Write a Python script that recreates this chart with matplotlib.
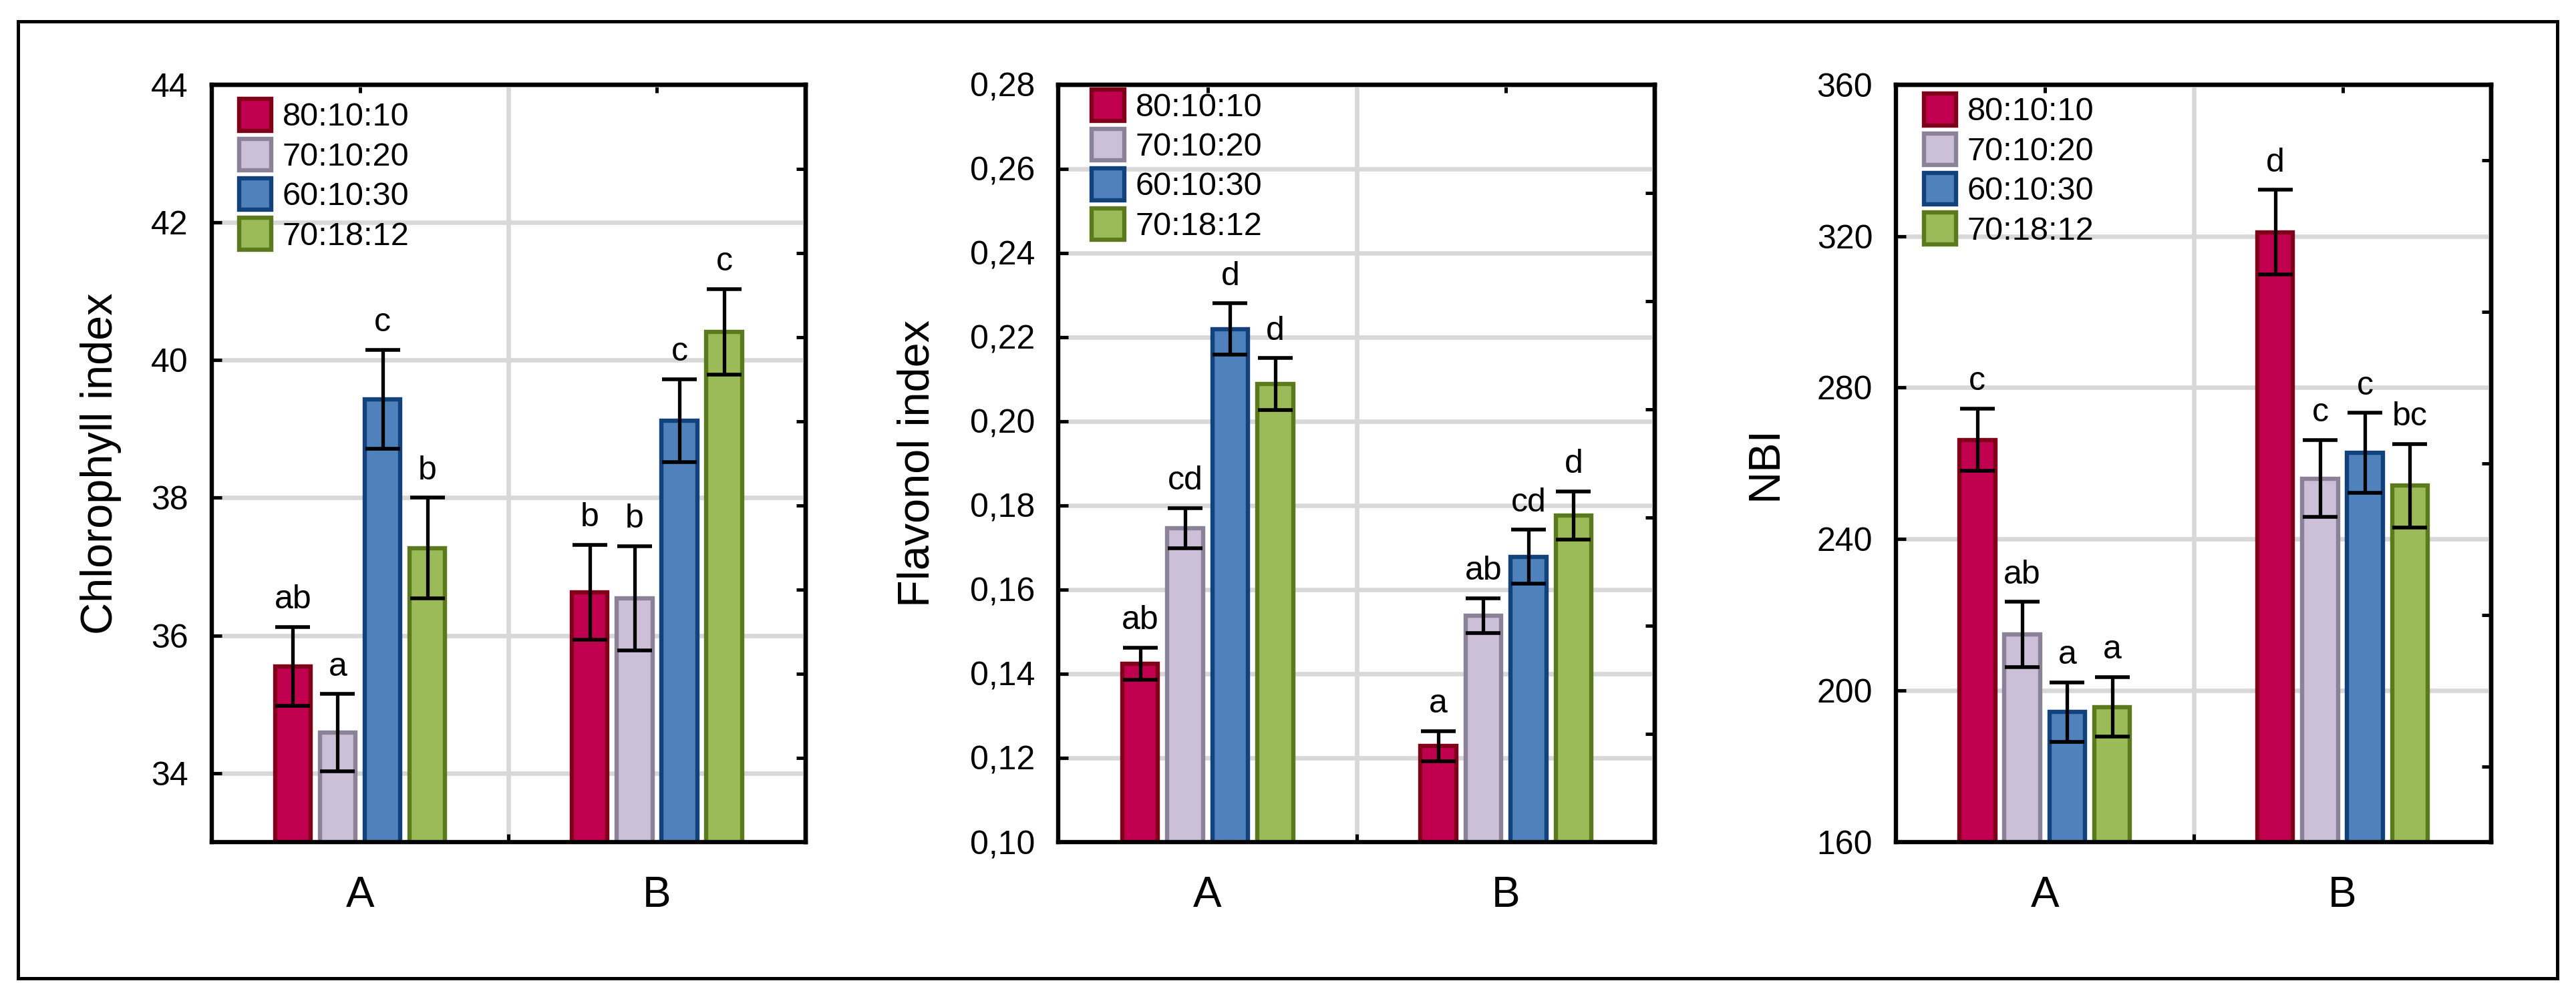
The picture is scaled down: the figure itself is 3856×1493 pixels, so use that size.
import numpy as np
import matplotlib
matplotlib.use('Agg')
import matplotlib.pyplot as plt
from matplotlib.patches import Rectangle
from matplotlib.ticker import FuncFormatter

plt.rcParams['font.family'] = ['Liberation Sans', 'DejaVu Sans']

groups = ['A', 'B']
series = ['80:10:10', '70:10:20', '60:10:30', '70:18:12']
fills = ['#C0004E', '#CBC0D8', '#4F81BD', '#9BBB59']
edges = ['#80001A', '#8C8298', '#12427C', '#5B7A1D']

# chlorophyll index, rows = series, cols = A, B
chl = np.array([[35.55, 36.63], [34.59, 36.54], [39.43, 39.12], [37.27, 40.41]])
chl_err = np.array([[0.57, 0.69], [0.56, 0.76], [0.72, 0.60], [0.73, 0.62]])
chl_let = [['ab', 'b'], ['a', 'b'], ['c', 'c'], ['b', 'c']]

flav = np.array([[0.1424, 0.1228], [0.1746, 0.1538], [0.2219, 0.1678], [0.2088, 0.1776]])
flav_err = np.array([[0.0038, 0.0036], [0.0048, 0.0042], [0.0061, 0.0064], [0.0062, 0.0057]])
flav_let = [['ab', 'a'], ['cd', 'ab'], ['d', 'cd'], ['d', 'd']]

nbi = np.array([[266.2, 321.0], [214.8, 256.0], [194.3, 262.8], [195.7, 254.1]])
nbi_err = np.array([[8.2, 11.2], [8.6, 10.1], [7.8, 10.5], [7.9, 11.0]])
nbi_let = [['c', 'd'], ['ab', 'c'], ['a', 'c'], ['a', 'bc']]

panels = [
    dict(vals=chl, err=chl_err, let=chl_let, ylabel='Chlorophyll index',
         ylim=(33, 44), yticks=np.arange(34, 44.1, 2), right=[k / 9 for k in range(1, 9)],
         left=0.08213, width=0.23055, labx=-0.152, leg=(0.046, 0.981), fmt=None),
    dict(vals=flav, err=flav_err, let=flav_let, ylabel='Flavonol index',
         ylim=(0.10, 0.28), yticks=np.arange(0.10, 0.281, 0.02), right=[k / 7 for k in range(1, 7)],
         left=0.41089, width=0.2316, labx=-0.201, leg=(0.056, 0.994), fmt='comma'),
    dict(vals=nbi, err=nbi_err, let=nbi_let, ylabel='NBI',
         ylim=(160, 360), yticks=np.arange(160, 361, 40), right=[0.1, 0.3, 0.5, 0.7, 0.9],
         left=0.73597, width=0.2312, labx=-0.184, leg=(0.047, 0.988), fmt=None),
]

fig = plt.figure(figsize=(19.28, 7.465), dpi=200)
fig.patches.append(Rectangle((0.0070, 0.01875), 0.98574, 0.95982, transform=fig.transFigure,
                             fill=False, edgecolor='black', linewidth=1.8))

xg = np.arange(len(groups))
step = 0.151
bw = 0.12

for p in panels:
    ax = fig.add_axes([p['left'], 0.15539, p['width'], 0.75975])
    ax.set_axisbelow(True)
    for i in range(len(series)):
        xs = xg + (i - 1.5) * step
        ax.bar(xs, p['vals'][i], bw, bottom=0, color=fills[i], edgecolor=edges[i],
               linewidth=2.3, label=series[i], zorder=2)
        ax.errorbar(xs, p['vals'][i], yerr=p['err'][i], fmt='none', ecolor='black',
                    elinewidth=1.9, capsize=9.5, capthick=2.0, zorder=3)
        for j in range(len(groups)):
            ax.annotate(p['let'][i][j], (xs[j], p['vals'][i][j] + p['err'][i][j]),
                        xytext=(0, 10), textcoords='offset points', ha='center',
                        va='baseline', fontsize=18, zorder=4)
    ax.set_xlim(-0.5, 1.5)
    ax.set_ylim(*p['ylim'])
    ax.set_yticks(p['yticks'])
    if p['fmt'] == 'comma':
        ax.yaxis.set_major_formatter(FuncFormatter(lambda v, pos: f'{v:.2f}'.replace('.', ',')))
    ax.set_xticks(xg, groups)
    ax.set_xticks([0.5], minor=True)
    ax.grid(True, which='major', axis='y', color='#D8D8D8', linewidth=2.4)
    ax.grid(True, which='minor', axis='x', color='#D8D8D8', linewidth=2.4)
    ax.tick_params(axis='x', which='major', length=0, pad=18, labelsize=23)
    ax.tick_params(axis='x', which='minor', direction='in', length=4.3, width=1.8)
    ax.tick_params(axis='y', which='major', direction='in', length=5.4, width=1.8,
                   pad=12.5, labelsize=18)
    for s in ax.spines.values():
        s.set_linewidth(2.3)
    ax.set_ylabel(p['ylabel'], fontsize=24)
    ax.yaxis.set_label_coords(p['labx'], 0.5)

    top = ax.secondary_xaxis('top')
    top.set_xticks(xg, ['', ''])
    top.tick_params(direction='in', length=4.3, width=1.8)
    top.spines['top'].set_linewidth(2.3)
    lo, hi = p['ylim']
    rt = ax.secondary_yaxis('right')
    rt.set_yticks([hi - f * (hi - lo) for f in p['right']], [''] * len(p['right']))
    rt.tick_params(direction='in', length=5.0, width=1.8)
    rt.spines['right'].set_linewidth(2.3)

    ax.legend(loc='upper left', bbox_to_anchor=p['leg'], frameon=False, fontsize=17.5,
              borderaxespad=0, borderpad=0, handlelength=1.0, handleheight=1.12,
              handletextpad=0.34, labelspacing=0.19)

fig.savefig('out.png', dpi=200)
